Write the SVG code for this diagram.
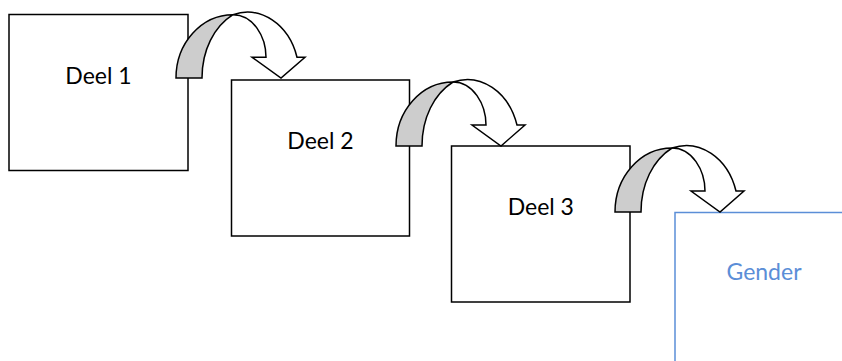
<svg xmlns="http://www.w3.org/2000/svg" width="842" height="361" viewBox="0 0 842 361">
  <style>
    .box { fill: #ffffff; stroke: #000000; stroke-width: 1.5; }
    .box-blue { fill: #ffffff; stroke: #5b8ed7; stroke-width: 1.5; }
    .label { font-family: Lato, "Liberation Sans", sans-serif; font-size: 23px; fill: #000000; text-anchor: middle; }
    .label-blue { fill: #5b8ed7; }
    .curl-back { fill: #cdcdcd; stroke: #000000; stroke-width: 1.5; stroke-linejoin: miter; }
    .curl-front { fill: #ffffff; stroke: #000000; stroke-width: 1.5; stroke-linejoin: miter; }
  </style>
  <defs>
    <!-- curved down arrow, origin at the bottom-left of the shaded back band -->
    <g id="curl">
      <path class="curl-back" d="M0,0 A57,64 0 0 1 57,-64 C38,-52 26,-28 26,0 Z"/>
      <path class="curl-front" d="M57,-64 A52,64 0 0 1 121,-21 L129,-21 L105,0 L76,-21 L90,-21 C90,-42 77,-64 57,-64 Z"/>
    </g>
  </defs>
  <rect width="842" height="361" fill="#ffffff"/>

  <g id="deel1">
    <rect class="box" x="9" y="14.5" width="179" height="156"/>
    <text class="label" x="98.5" y="84">Deel 1</text>
  </g>
  <g id="deel2">
    <rect class="box" x="231.5" y="80" width="178" height="156"/>
    <text class="label" x="320.5" y="149">Deel 2</text>
  </g>
  <g id="deel3">
    <rect class="box" x="451.5" y="146" width="178.5" height="156"/>
    <text class="label" x="540.8" y="215">Deel 3</text>
  </g>
  <g id="gender">
    <rect class="box-blue" x="675" y="212.5" width="179" height="156"/>
    <text class="label label-blue" x="764" y="280">Gender</text>
  </g>

  <g id="connectors">
    <use href="#curl" transform="translate(176,78) scale(1,0.99)"/>
    <use href="#curl" transform="translate(396,146)"/>
    <use href="#curl" transform="translate(615,212)"/>
  </g>
</svg>
